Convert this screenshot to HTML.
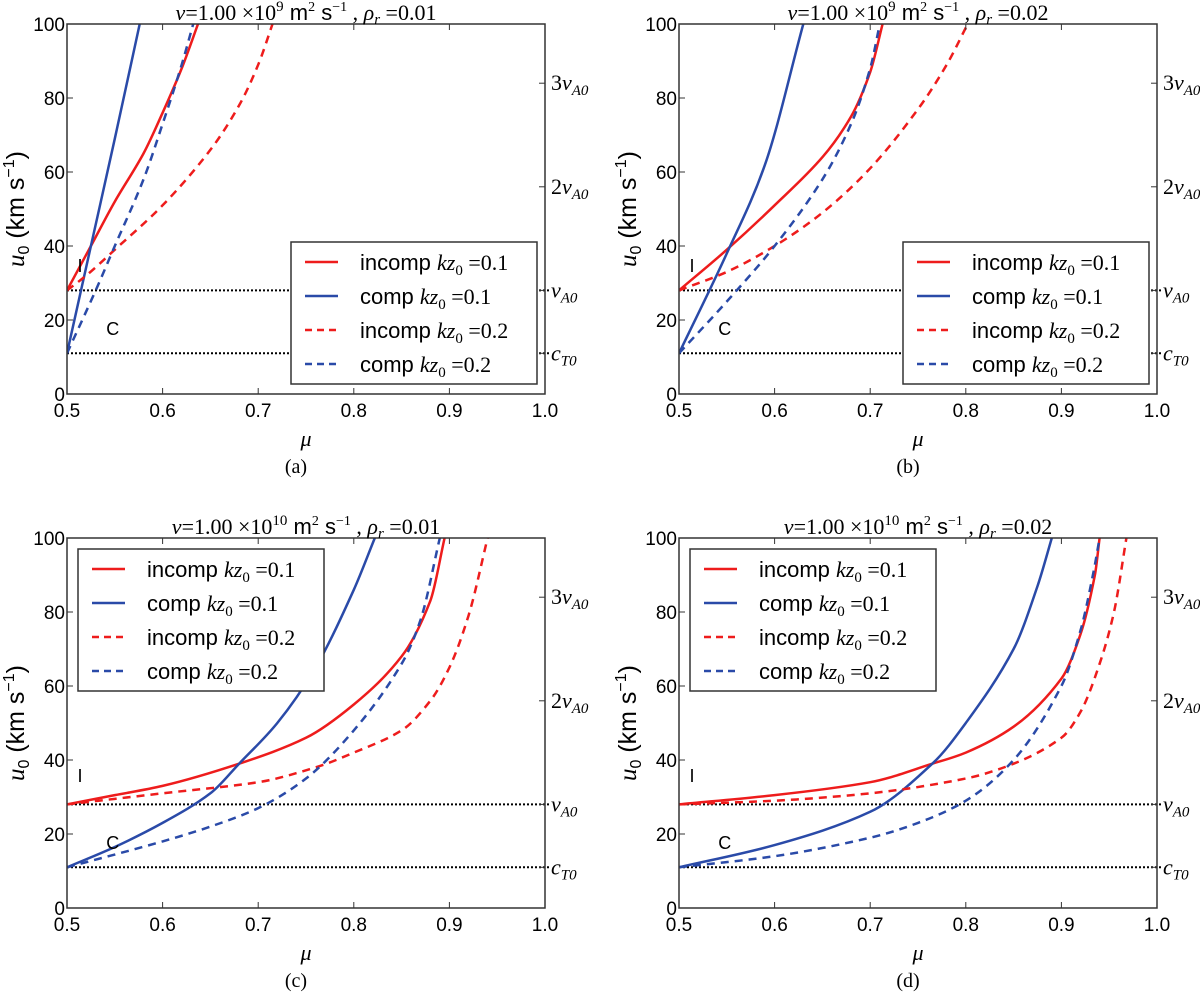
<!DOCTYPE html>
<html><head><meta charset="utf-8"><style>
body{margin:0;background:#fff;}
svg text{font-family:"Liberation Sans",sans-serif;}
.serif{font-family:"Liberation Serif",serif;}
</style></head><body>
<svg id="fig" width="1200" height="994" viewBox="0 0 1200 994" xmlns="http://www.w3.org/2000/svg"></svg>
<script>
const xTicks=[0.5,0.6,0.7,0.8,0.9,1.0];
const xTickLabels=["0.5","0.6","0.7","0.8","0.9","1.0"];
const yTicks=[0,20,40,60,80,100];
const vA0=28, cT0=11;
const panelTitles=[["1.00 ×10","9","0.01"],["1.00 ×10","9","0.02"],["1.00 ×10","10","0.01"],["1.00 ×10","10","0.02"]];
const captions=["(a)","(b)","(c)","(d)"];
// panel a
const aIncomp1=[[0.5,28],[0.525,40],[0.55,52],[0.58,65],[0.6,76],[0.62,88],[0.637,100]];
const aComp1=[[0.5,11],[0.525,40],[0.55,69],[0.576,100]];
const aIncomp2=[[0.5,28],[0.52,32],[0.55,39],[0.6,51],[0.65,66],[0.68,78],[0.7,89],[0.715,100]];
const aComp2=[[0.5,11],[0.53,28],[0.55,40],[0.58,58],[0.6,73],[0.62,89],[0.632,100]];
// panel b
const bIncomp1=[[0.5,28],[0.55,39],[0.6,51],[0.65,64],[0.68,75],[0.7,87],[0.713,100]];
const bComp1=[[0.5,11],[0.55,38],[0.59,62],[0.63,100]];
const bIncomp2=[[0.5,28],[0.55,33],[0.6,40],[0.65,49],[0.7,61],[0.75,77],[0.78,89],[0.802,100]];
const bComp2=[[0.5,11],[0.55,25],[0.6,40],[0.65,58],[0.68,73],[0.7,88],[0.71,100]];
// panel c
const cIncomp1=[[0.5,28],[0.55,30.5],[0.6,33],[0.68,39],[0.75,46],[0.8,55],[0.85,68],[0.88,83],[0.895,100]];
const cComp1=[[0.5,11],[0.55,16.5],[0.6,23],[0.65,31],[0.68,39],[0.72,50],[0.76,65],[0.8,86],[0.822,100]];
const cIncomp2=[[0.5,28],[0.6,31],[0.7,34],[0.76,38],[0.8,42],[0.85,48],[0.88,56],[0.9,65],[0.92,79],[0.94,100]];
const cComp2=[[0.5,11],[0.6,18],[0.65,22],[0.7,27],[0.75,35],[0.8,48],[0.85,66],[0.87,78],[0.89,100]];
// panel d
const dIncomp1=[[0.5,28],[0.6,30.5],[0.7,34],[0.765,39],[0.8,42],[0.85,49],[0.9,62],[0.92,74],[0.935,90],[0.94,100]];
const dComp1=[[0.5,11],[0.6,17],[0.7,26],[0.765,39],[0.8,50],[0.85,70],[0.875,87],[0.89,100]];
const dIncomp2=[[0.5,28],[0.6,29],[0.7,31],[0.8,35],[0.85,39],[0.9,46],[0.92,53],[0.94,66],[0.955,80],[0.968,100]];
const dComp2=[[0.5,11],[0.6,14],[0.7,19],[0.75,23],[0.8,29],[0.85,40],[0.9,60],[0.92,75],[0.933,90],[0.94,100]];
const seriesSets=[[aIncomp1,aComp1,aIncomp2,aComp2],[bIncomp1,bComp1,bIncomp2,bComp2],[cIncomp1,cComp1,cIncomp2,cComp2],[dIncomp1,dComp1,dIncomp2,dComp2]];
const legendLabels=[["incomp ","0.1"],["comp ","0.1"],["incomp ","0.2"],["comp ","0.2"]];

const NS="http://www.w3.org/2000/svg";
const svg=document.getElementById('fig');
function el(tag,attrs,parent,text){const e=document.createElementNS(NS,tag);for(const k in attrs)e.setAttribute(k,attrs[k]);if(text!==undefined)e.textContent=text;(parent||svg).appendChild(e);return e;}
const RED="#ee1c1c", BLUE="#2a4aa8";
const styles=[{c:RED,d:""},{c:BLUE,d:""},{c:RED,d:"8,6"},{c:BLUE,d:"8,6"}];
const panels=[{x0:67,y0:24,leg:[291,242]},{x0:679,y0:24,leg:[903,242]},{x0:67,y0:538,leg:[78,549]},{x0:679,y0:538,leg:[690,549]}];
const W=478,H=370;
const names=["a","b","c","d"];
// monotone cubic (Fritsch-Carlson) path
function smoothPath(pts){
  const n=pts.length, dx=[], m=[], t=new Array(n);
  for(let i=0;i<n-1;i++){dx[i]=pts[i+1][0]-pts[i][0];m[i]=(pts[i+1][1]-pts[i][1])/dx[i];}
  t[0]=m[0];t[n-1]=m[n-2];
  for(let i=1;i<n-1;i++){t[i]=(m[i-1]*m[i]<=0)?0:(dx[i-1]+dx[i])/((dx[i-1]*2+dx[i])/(3*m[i-1])+(dx[i-1]+2*dx[i])/(3*m[i]));}
  let d="M"+pts[0][0].toFixed(1)+","+pts[0][1].toFixed(1);
  for(let i=0;i<n-1;i++){
    const h=dx[i]/3;
    d+=" C"+(pts[i][0]+h).toFixed(1)+","+(pts[i][1]+h*t[i]).toFixed(1)+" "+(pts[i+1][0]-h).toFixed(1)+","+(pts[i+1][1]-h*t[i+1]).toFixed(1)+" "+pts[i+1][0].toFixed(1)+","+pts[i+1][1].toFixed(1);
  }
  return d;
}
panels.forEach((P,pi)=>{
  const g=el('g',{});
  
  
  const sx=v=>P.x0+(v-0.5)/0.5*W;
  const sy=v=>P.y0+H-v/100*H;
  const cid='clip'+pi;
  const cp=el('clipPath',{id:cid},g);el('rect',{x:P.x0,y:P.y0,width:W,height:H},cp);
  [vA0,cT0].forEach((v,i)=>{
    const l=el('line',{x1:P.x0,x2:P.x0+W+6,y1:sy(v),y2:sy(v),stroke:"#000","stroke-width":2,"stroke-dasharray":"2,2"},g);
    
    
  });
  seriesSets[pi].forEach((s,si)=>{
    const pts=s.map(p=>[sx(p[0]),sy(p[1])]);
    const p=el('path',{d:smoothPath(pts),fill:"none",stroke:styles[si].c,"stroke-width":2.5,"stroke-dasharray":styles[si].d,"clip-path":"url(#"+cid+")"},g);
    
    
  });
  const fr=el('rect',{x:P.x0,y:P.y0,width:W,height:H,fill:"none",stroke:"#333","stroke-width":1.5},g);
  
  
  xTicks.forEach((t,i)=>{
    el('line',{x1:sx(t),x2:sx(t),y1:P.y0+H,y2:P.y0+H-6,stroke:"#333"},g);
    el('line',{x1:sx(t),x2:sx(t),y1:P.y0,y2:P.y0+6,stroke:"#333"},g);
    const tx=el('text',{x:sx(t),y:P.y0+H+23,"text-anchor":"middle","font-size":19},g,xTickLabels[i]);
    
    
  });
  yTicks.forEach(t=>{
    el('line',{x1:P.x0,x2:P.x0+6,y1:sy(t),y2:sy(t),stroke:"#333"},g);
    const tx=el('text',{x:P.x0-2,y:sy(t)+7,"text-anchor":"end","font-size":19},g,String(t));
    
    
  });
  [[3*vA0,"3"],[2*vA0,"2"],[vA0,""],[cT0,"c"]].forEach((r,i)=>{
    el('line',{x1:P.x0+W,x2:P.x0+W-6,y1:sy(r[0]),y2:sy(r[0]),stroke:"#333"},g);
    const t=el('text',{x:P.x0+W+6,y:sy(r[0])+7,"font-size":22,"class":"serif"},g);
    
    
    if(i<3){el('tspan',{},t,r[1]);el('tspan',{"font-style":"italic"},t,"v");el('tspan',{"font-style":"italic","font-size":15,dy:5},t,"A0");}
    else{el('tspan',{"font-style":"italic"},t,"c");el('tspan',{"font-style":"italic","font-size":15,dy:5},t,"T0");}
  });
  const up=pi<2;
  const li=el('text',{x:sx(0.511),y:sy(up?33:34),"font-size":18},g,"I");
  
  const lc=el('text',{x:sx(0.541),y:sy(up?16:16),"font-size":18},g,"C");
  
  const tt=panelTitles[pi];
  const ti=el('text',{x:P.x0+W/2,y:P.y0-4,"text-anchor":"middle","font-size":22,"class":"serif"},g);
  
  el('tspan',{"font-style":"italic"},ti,"ν");el('tspan',{},ti,"="+tt[0]);
  el('tspan',{"font-size":15,dy:-9},ti,tt[1]);
  el('tspan',{dy:9,"font-family":"Liberation Sans"},ti,"  m");el('tspan',{"font-size":14,dy:-9},ti,"2");
  el('tspan',{dy:9,"font-family":"Liberation Sans"},ti," s");el('tspan',{"font-size":14,dy:-9},ti,"−1");
  el('tspan',{dy:9},ti," , ");el('tspan',{"font-style":"italic"},ti,"ρ");el('tspan',{"font-style":"italic","font-size":15,dy:4},ti,"r");
  el('tspan',{dy:-4},ti," =" + tt[2]);
  const xl=el('text',{x:P.x0+W/2,y:P.y0+H+52,"text-anchor":"middle","font-size":22,"font-style":"italic","class":"serif"},g,"μ");
  
  const yl=el('text',{transform:"translate("+(P.x0-43)+","+(P.y0+H/2)+") rotate(-90)","text-anchor":"middle","font-size":25},g);
  
  el('tspan',{"font-style":"italic","font-family":"Liberation Serif"},yl,"u");el('tspan',{"font-size":16,dy:5},yl,"0");
  el('tspan',{dy:-5},yl,"  (km s");el('tspan',{"font-size":16,dy:-10},yl,"−1");el('tspan',{dy:10},yl,")");
  const cap=el('text',{x:P.x0+W/2-10,y:P.y0+H+79,"text-anchor":"middle","font-size":20,"class":"serif"},g,captions[pi]);
  
  const [lx,ly]=P.leg;
  const lg=el('g',{},g);
  
  el('rect',{x:lx,y:ly,width:246,height:142,fill:"#fff",stroke:"#333","stroke-width":1.5},lg);
  legendLabels.forEach((L,i)=>{
    const yy=ly+20+i*34;
    const e=el('g',{},lg);
    
    el('line',{x1:lx+14,x2:lx+47,y1:yy,y2:yy,stroke:styles[i].c,"stroke-width":2.5,"stroke-dasharray":styles[i].d?"7,5":""},e);
    const t=el('text',{x:lx+69,y:yy+8,"font-size":22},e);
    el('tspan',{},t,L[0]);el('tspan',{"font-style":"italic","font-family":"Liberation Serif"},t,"kz");
    el('tspan',{"font-size":15,dy:5,"font-family":"Liberation Serif"},t,"0");
    el('tspan',{dy:-5,"font-family":"Liberation Serif"},t," ="+L[1]);
  });
  svg.appendChild(g);
});
</script>
</body></html>
